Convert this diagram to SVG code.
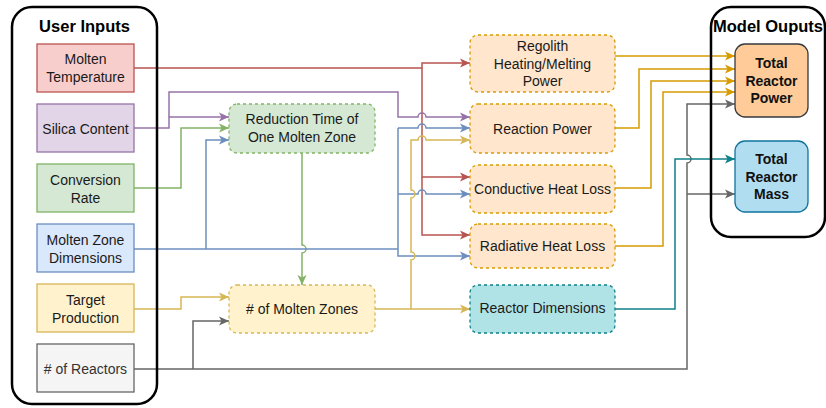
<svg xmlns="http://www.w3.org/2000/svg" width="826" height="408" viewBox="0 0 826 408">
  <style>
    text { font-family: "Liberation Sans", Arial, sans-serif; font-size: 14px; fill: #1a1a1a; text-anchor: middle; }
    .title { font-size: 16.5px; font-weight: bold; fill: #000; }
    .bold { font-size: 14px; font-weight: bold; fill: #111; }
    .box { stroke-width: 1.3; }
    .dash { stroke-width: 1.3; stroke-dasharray: 3 3; }
    .frame { fill: none; stroke: #000; stroke-width: 2.5; }
    .edge { fill: none; stroke-width: 1.5; }
    .red { stroke: #b85450; } .purple { stroke: #9673a6; } .green { stroke: #82b366; }
    .blue { stroke: #6c8ebf; } .yellow { stroke: #d6b656; } .gray { stroke: #666666; }
    .orange { stroke: #d79b00; } .teal { stroke: #0e8088; }
  </style>
  <defs>
    <marker id="a-red" viewBox="0 0 10 10" refX="10" refY="5" markerWidth="10" markerHeight="10" markerUnits="userSpaceOnUse" orient="auto"><path d="M0,0.5 L10,5 L0,9.5 L2.5,5 Z" fill="#b85450"/></marker>
    <marker id="a-purple" viewBox="0 0 10 10" refX="10" refY="5" markerWidth="10" markerHeight="10" markerUnits="userSpaceOnUse" orient="auto"><path d="M0,0.5 L10,5 L0,9.5 L2.5,5 Z" fill="#9673a6"/></marker>
    <marker id="a-green" viewBox="0 0 10 10" refX="10" refY="5" markerWidth="10" markerHeight="10" markerUnits="userSpaceOnUse" orient="auto"><path d="M0,0.5 L10,5 L0,9.5 L2.5,5 Z" fill="#82b366"/></marker>
    <marker id="a-blue" viewBox="0 0 10 10" refX="10" refY="5" markerWidth="10" markerHeight="10" markerUnits="userSpaceOnUse" orient="auto"><path d="M0,0.5 L10,5 L0,9.5 L2.5,5 Z" fill="#6c8ebf"/></marker>
    <marker id="a-yellow" viewBox="0 0 10 10" refX="10" refY="5" markerWidth="10" markerHeight="10" markerUnits="userSpaceOnUse" orient="auto"><path d="M0,0.5 L10,5 L0,9.5 L2.5,5 Z" fill="#d6b656"/></marker>
    <marker id="a-gray" viewBox="0 0 10 10" refX="10" refY="5" markerWidth="10" markerHeight="10" markerUnits="userSpaceOnUse" orient="auto"><path d="M0,0.5 L10,5 L0,9.5 L2.5,5 Z" fill="#666666"/></marker>
    <marker id="a-orange" viewBox="0 0 10 10" refX="10" refY="5" markerWidth="10" markerHeight="10" markerUnits="userSpaceOnUse" orient="auto"><path d="M0,0.5 L10,5 L0,9.5 L2.5,5 Z" fill="#d79b00"/></marker>
    <marker id="a-teal" viewBox="0 0 10 10" refX="10" refY="5" markerWidth="10" markerHeight="10" markerUnits="userSpaceOnUse" orient="auto"><path d="M0,0.5 L10,5 L0,9.5 L2.5,5 Z" fill="#0e8088"/></marker>
  </defs>

  <!-- connectors -->
  <g id="connectors">
    <!-- molten temperature -->
    <path class="edge red" d="M134,68 H422 V63 H470" marker-end="url(#a-red)"/>
    <path class="edge red" d="M422,68 V177 H470" marker-end="url(#a-red)"/>
    <path class="edge red" d="M422,177 V235 H470" marker-end="url(#a-red)"/>
    <!-- silica content -->
    <path class="edge purple" d="M134,128 H169 V117 H229" marker-end="url(#a-purple)"/>
    <path class="edge purple" d="M169,117 V92 H398 V117 H418 A4,4 0 0 1 426,117 H470" marker-end="url(#a-purple)"/>
    <!-- conversion rate -->
    <path class="edge green" d="M134,188 H181 V128 H229" marker-end="url(#a-green)"/>
    <!-- reduction time to molten zones -->
    <path class="edge green" d="M302,153 V245 A4,4 0 0 1 302,253 V285" marker-end="url(#a-green)"/>
    <!-- molten zone dimensions -->
    <path class="edge blue" d="M134,249 H398"/>
    <path class="edge blue" d="M206,249 V140 H229" marker-end="url(#a-blue)"/>
    <path class="edge blue" d="M398,128 V256 H470" marker-end="url(#a-blue)"/>
    <path class="edge blue" d="M398,128 H418 A4,4 0 0 1 426,128 H470" marker-end="url(#a-blue)"/>
    <path class="edge blue" d="M398,194 H418 A4,4 0 0 1 426,194 H470" marker-end="url(#a-blue)"/>
    <!-- target production -->
    <path class="edge yellow" d="M134,309 H181 V297 H229" marker-end="url(#a-yellow)"/>
    <!-- number of molten zones -->
    <path class="edge yellow" d="M375,309 H470" marker-end="url(#a-yellow)"/>
    <path class="edge yellow" d="M411,309 V260 A4,4 0 0 0 411,252 V198 A4,4 0 0 0 411,190 V140 H418 A4,4 0 0 1 426,140 H470" marker-end="url(#a-yellow)"/>
    <!-- number of reactors -->
    <path class="edge gray" d="M134,369 H687 V163 A4,4 0 0 0 687,155 V104 H735" marker-end="url(#a-gray)"/>
    <path class="edge gray" d="M193,369 V321 H229" marker-end="url(#a-gray)"/>
    <path class="edge gray" d="M687,194 H735" marker-end="url(#a-gray)"/>
    <!-- reactor dimensions -->
    <path class="edge teal" d="M615,309 H675 V159 H735" marker-end="url(#a-teal)"/>
    <!-- power terms -->
    <path class="edge orange" d="M615,56 H735" marker-end="url(#a-orange)"/>
    <path class="edge orange" d="M615,128 H639 V69 H735" marker-end="url(#a-orange)"/>
    <path class="edge orange" d="M615,188 H651 V81 H735" marker-end="url(#a-orange)"/>
    <path class="edge orange" d="M615,246 H663 V92 H735" marker-end="url(#a-orange)"/>
  </g>

  <!-- input group -->
  <g id="user-inputs">
    <rect class="frame" x="12" y="7" width="145" height="397" rx="20"/>
    <text class="title" x="84.5" y="32">User Inputs</text>
  </g>
  <g id="molten-temperature">
    <rect class="box" x="37" y="44" width="97" height="48" fill="#f8cecc" stroke="#b85450"/>
    <text x="85.5" y="64">Molten</text>
    <text x="85.5" y="82">Temperature</text>
  </g>
  <g id="silica-content">
    <rect class="box" x="37" y="104" width="97" height="48" fill="#e1d5e7" stroke="#9673a6"/>
    <text x="85.5" y="133.5">Silica Content</text>
  </g>
  <g id="conversion-rate">
    <rect class="box" x="37" y="164" width="97" height="48" fill="#d5e8d4" stroke="#82b366"/>
    <text x="85.5" y="184.5">Conversion</text>
    <text x="85.5" y="202.5">Rate</text>
  </g>
  <g id="molten-zone-dimensions">
    <rect class="box" x="37" y="224" width="97" height="48" fill="#dae8fc" stroke="#6c8ebf"/>
    <text x="85.5" y="244.5">Molten Zone</text>
    <text x="85.5" y="262.5">Dimensions</text>
  </g>
  <g id="target-production">
    <rect class="box" x="37" y="284" width="97" height="48" fill="#fff2cc" stroke="#d6b656"/>
    <text x="85.5" y="304.5">Target</text>
    <text x="85.5" y="322.5">Production</text>
  </g>
  <g id="number-of-reactors">
    <rect class="box" x="37" y="344" width="97" height="48" fill="#f5f5f5" stroke="#666666"/>
    <text x="85.5" y="373.5" style="fill:#333333">&#35; of Reactors</text>
  </g>

  <!-- intermediate quantities -->
  <g id="reduction-time">
    <rect class="dash" x="229" y="104" width="146" height="49" rx="8" fill="#d5e8d4" stroke="#82b366"/>
    <text x="302" y="124.2">Reduction Time of</text>
    <text x="302" y="142.2">One Molten Zone</text>
  </g>
  <g id="molten-zones">
    <rect class="dash" x="229" y="285" width="146" height="48" rx="8" fill="#fff2cc" stroke="#d6b656"/>
    <text x="302" y="314">&#35; of Molten Zones</text>
  </g>
  <g id="regolith-power">
    <rect class="dash" x="470" y="35" width="145" height="57" rx="8" fill="#ffe6cc" stroke="#d79b00"/>
    <text x="542.5" y="51">Regolith</text>
    <text x="542.5" y="68.5">Heating/Melting</text>
    <text x="542.5" y="86">Power</text>
  </g>
  <g id="reaction-power">
    <rect class="dash" x="470" y="104" width="145" height="49" rx="8" fill="#ffe6cc" stroke="#d79b00"/>
    <text x="542.5" y="133.5">Reaction Power</text>
  </g>
  <g id="conductive-loss">
    <rect class="dash" x="470" y="165" width="145" height="48" rx="8" fill="#ffe6cc" stroke="#d79b00"/>
    <text x="542.5" y="194">Conductive Heat Loss</text>
  </g>
  <g id="radiative-loss">
    <rect class="dash" x="470" y="224" width="145" height="44" rx="8" fill="#ffe6cc" stroke="#d79b00"/>
    <text x="542.5" y="250.7">Radiative Heat Loss</text>
  </g>
  <g id="reactor-dimensions">
    <rect class="dash" x="470" y="285" width="145" height="48" rx="8" fill="#b0e3e6" stroke="#0e8088"/>
    <text x="542.5" y="312.7">Reactor Dimensions</text>
  </g>

  <!-- output group -->
  <g id="model-outputs">
    <rect class="frame" x="711" y="7" width="114" height="230" rx="20"/>
    <text class="title" x="768" y="32">Model Ouputs</text>
  </g>
  <g id="total-power">
    <rect x="735" y="44" width="73" height="73" rx="10" fill="#ffcc99" stroke="#36393d" stroke-width="1.3"/>
    <text class="bold" x="771.5" y="68">Total</text>
    <text class="bold" x="771.5" y="85.5">Reactor</text>
    <text class="bold" x="771.5" y="103">Power</text>
  </g>
  <g id="total-mass">
    <rect x="735" y="141" width="73" height="71" rx="10" fill="#b1ddf0" stroke="#10739e" stroke-width="1.3"/>
    <text class="bold" x="771.5" y="164">Total</text>
    <text class="bold" x="771.5" y="182">Reactor</text>
    <text class="bold" x="771.5" y="199">Mass</text>
  </g>
</svg>
